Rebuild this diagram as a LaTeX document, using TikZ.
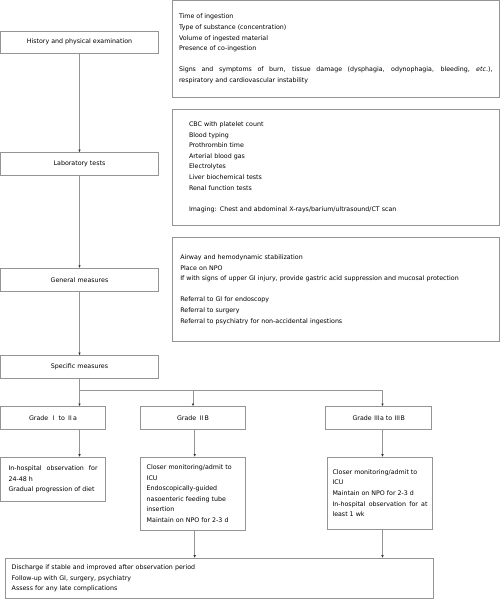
\documentclass[tikz,border=0pt]{standalone}
\usepackage{fontspec}
\setmainfont{DejaVu Sans}
\newfontfamily\cjk{Noto Sans CJK SC}
\usepackage{tikz}
\usetikzlibrary{arrows.meta,calc}
\definecolor{boxgray}{gray}{0.58}

\tikzset{
  stagebox/.style={draw=boxgray,line width=0.8bp,minimum width=158bp,minimum height=22.5bp,inner sep=0pt},
  notebox/.style={draw=boxgray,line width=0.8bp,align=justify,inner ysep=0pt},
  flow/.style={draw=boxgray,line width=0.8bp,-{Latex[length=2.8bp,width=2.6bp,color=black!80]}},
  plainline/.style={draw=boxgray,line width=0.8bp},
}
\newcommand{\rom}[1]{{\cjk #1}}

\begin{document}
\begin{tikzpicture}[x=1bp,y=-1bp,font=\fontsize{6.3bp}{10.6bp}\selectfont]
\useasboundingbox (0,0) rectangle (500,599);

% Left column: main steps
\node[stagebox] (hist) at (79.5,42.2) {History and physical examination};
\node[stagebox] (lab)  at (79.5,164)  {Laboratory tests};
\node[stagebox] (gen)  at (79.5,279.7) {General measures};
\node[stagebox] (spec) at (79.5,367)  {Specific measures};

% Right column: notes
\node[notebox,text width=313.5bp,inner xsep=7bp,minimum height=96.8bp] (hnote) at (335.75,48.9) {%
Time of ingestion\\
Type of substance (concentration)\\
Volume of ingested material\\
Presence of co-ingestion\\[10.6bp]
Signs and symptoms of burn, tissue damage (dysphagia, odynophagia, bleeding, \textit{etc}.),\linebreak
respiratory and cardiovascular instability};
\node[notebox,align=left,text width=293.5bp,inner xsep=17bp,minimum height=115.7bp] (lnote) at (335.75,167.2) {%
CBC with platelet count\\
Blood typing\\
Prothrombin time\\
Arterial blood gas\\
Electrolytes\\
Liver biochemical tests\\
Renal function tests\\[10.6bp]
Imaging: Chest and abdominal X-rays/barium/ultrasound/CT scan};
\node[notebox,align=left,text width=310.9bp,inner xsep=8.3bp,minimum height=104.4bp] (gnote) at (335.75,289.5) {%
Airway and hemodynamic stabilization\\
Place on NPO\\
If with signs of upper GI injury, provide gastric acid suppression and mucosal protection\\[10.6bp]
Referral to GI for endoscopy\\
Referral to surgery\\
Referral to psychiatry for non-accidental ingestions};

% Grades
\node[stagebox,minimum width=105.2bp,minimum height=22.6bp] (gA) at (53.1,418) {Grade \rom{Ⅰ} to \rom{Ⅱ}a};
\node[stagebox,minimum width=105.4bp,minimum height=22.6bp] (gB) at (193,418)  {Grade \rom{Ⅱ}B};
\node[stagebox,minimum width=106bp,minimum height=22.6bp]   (gC) at (378.7,418) {Grade \rom{Ⅲ}a to \rom{Ⅲ}B};

% Management per grade
\node[notebox,text width=89bp,inner xsep=8.1bp,minimum height=44bp] (mA) at (53.1,479.3) {%
In-hospital observation for\linebreak 24-48 h\\
Gradual progression of diet};
\node[notebox,align=left,text width=92.6bp,inner xsep=6.4bp,minimum height=72.7bp] (mB) at (193,493.6) {%
Closer monitoring/admit to\\
ICU\\
Endoscopically-guided\\
nasoenteric feeding tube\\
insertion\\
Maintain on NPO for 2-3 d};
\node[notebox,text width=95bp,inner xsep=5.2bp,minimum height=71.7bp] (mC) at (380,493.2) {%
Closer monitoring/admit to\\
ICU\\
Maintain on NPO for 2-3 d\\
In-hospital observation for at\linebreak least 1 wk};

% Final step
\node[notebox,align=left,text width=414.9bp,inner xsep=6.7bp,minimum height=40bp] (fin) at (219.2,578.3) {%
Discharge if stable and improved after observation period\\
Follow-up with GI, surgery, psychiatry\\
Assess for any late complications};

% Connectors
\draw[flow] (hist) -- (lab);
\draw[flow] (lab) -- (gen);
\draw[flow] (gen) -- (spec);
\coordinate (br) at (79.5,390.3);
\coordinate (cB) at (194.7,390.3);
\coordinate (cC) at (382.5,390.3);
\draw[flow] (spec.south) -- (spec.south |- gA.north);
\draw[plainline] (br) -- (cC);
\draw[flow] (br -| gB.north) -- (gB.north);
\draw[flow] (cC) -- (cC |- gC.north);
\draw[flow] (spec.south |- gA.south) -- (spec.south |- mA.north);
\draw[flow] (cB |- gB.south) -- (cB |- mB.north);
\draw[flow] (cC |- gC.south) -- (cC |- mC.north);
\draw[flow] (cB |- mB.south) -- (cB |- fin.north);
\draw[flow] (cC |- mC.south) -- (cC |- fin.north);
\end{tikzpicture}
\end{document}
